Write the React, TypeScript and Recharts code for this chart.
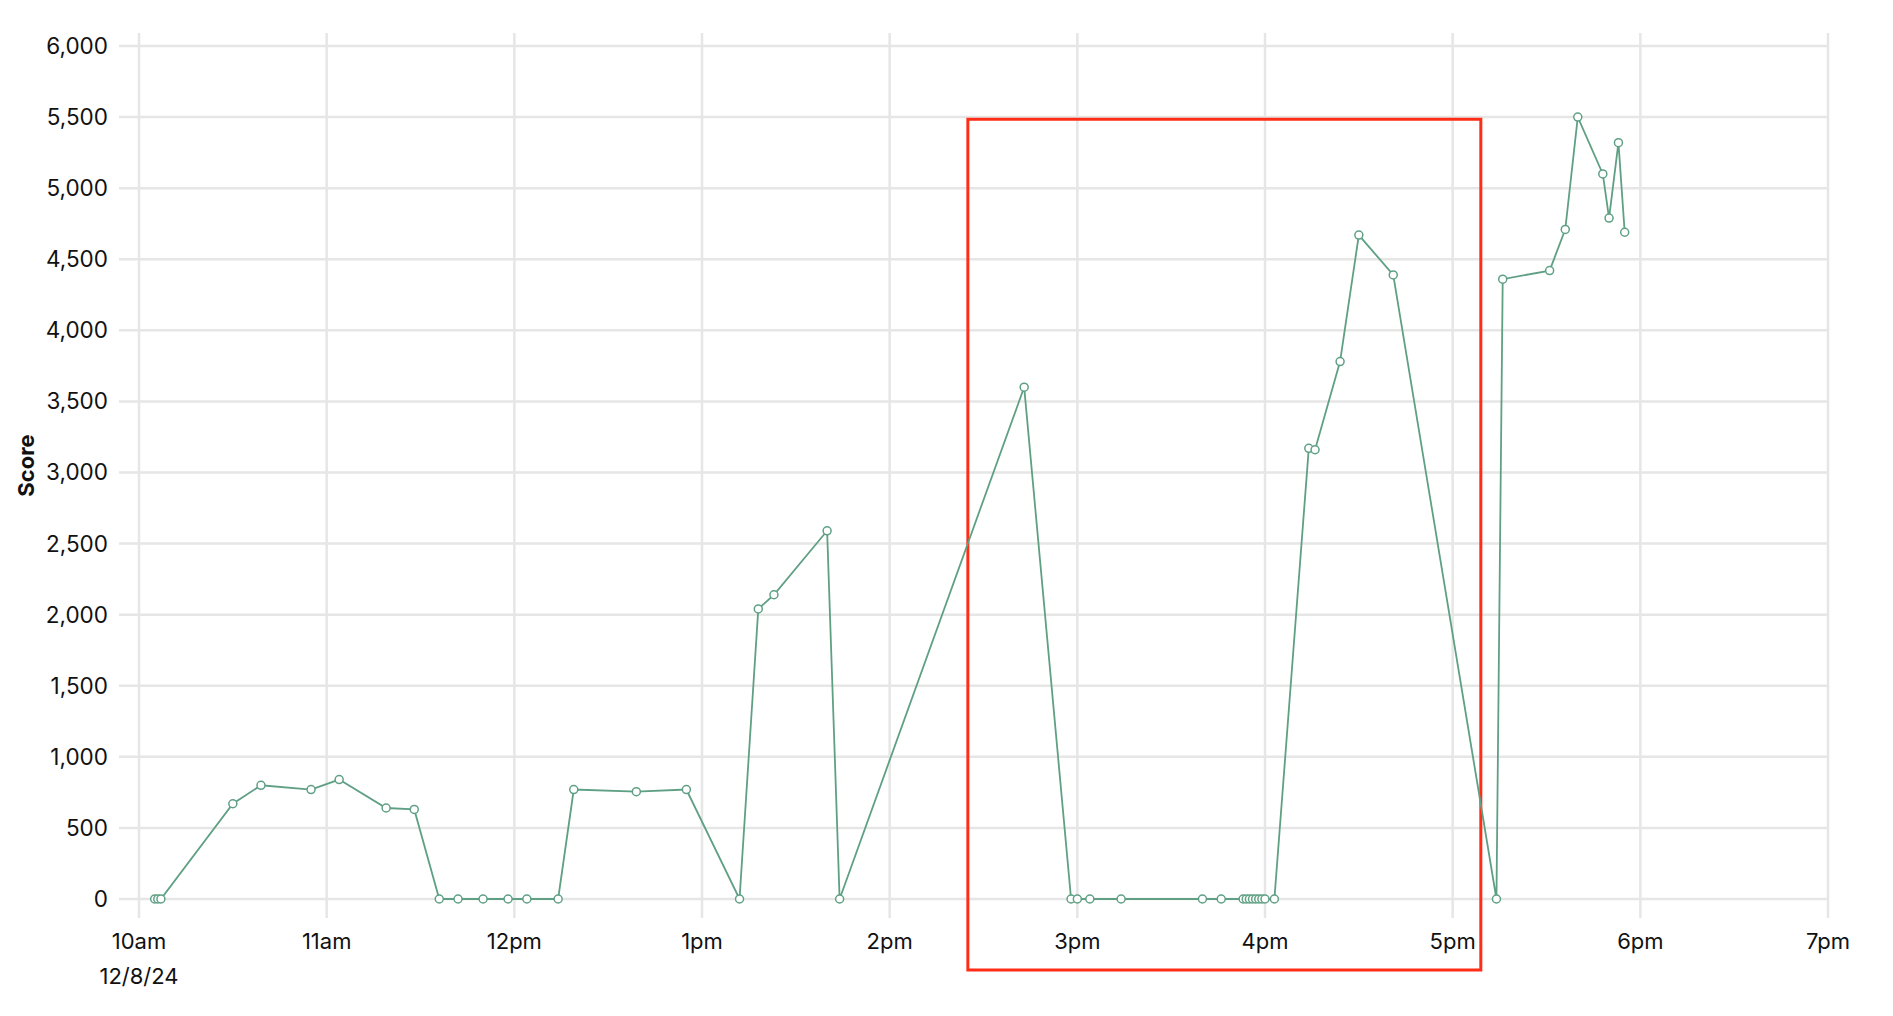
import { LineChart, Line, XAxis, YAxis, CartesianGrid, ReferenceArea, Label } from 'recharts'

// session scores (time of day, score)
const times = [
    '10:05', '10:06', '10:07', '10:30', '10:39', '10:55', '11:04', '11:19', '11:28',
    '11:36', '11:42', '11:50', '11:58', '12:04', '12:14', '12:19', '12:39', '12:55',
    '13:12', '13:18', '13:23', '13:40', '13:44', '14:43', '14:58', '15:00', '15:04',
    '15:14', '15:40', '15:46', '15:53', '15:54', '15:55', '15:56', '15:57', '15:58',
    '15:59', '16:00', '16:03', '16:14', '16:16', '16:24', '16:30', '16:41', '17:14',
    '17:16', '17:31', '17:36', '17:40', '17:48', '17:50', '17:53', '17:55',
]
const scores = [
    0, 0, 0, 670, 800, 770, 840, 640, 630,
    0, 0, 0, 0, 0, 0, 770, 755, 770,
    0, 2040, 2140, 2590, 0, 3600, 0, 0, 0,
    0, 0, 0, 0, 0, 0, 0, 0, 0,
    0, 0, 0, 3170, 3160, 3780, 4670, 4390, 0,
    4360, 4420, 4710, 5500, 5100, 4790, 5320, 4690,
]

const hourTicks = [10, 11, 12, 13, 14, 15, 16, 17, 18, 19]
const scoreTicks = [0, 500, 1000, 1500, 2000, 2500, 3000, 3500, 4000, 4500, 5000, 5500, 6000]
const dateLabel = '12/8/24'

// highlighted window
const boxFrom = '14:25'
const boxTo = '17:09'
const boxScores = [-500, 5485]

const toMin = (s: string) => {
    const [h, m] = s.split(':').map(Number)
    return h * 60 + m
}

const data = times.map((t, i) => ({ t: toMin(t), score: scores[i] }))

const fmtHour = (v: number) => {
    const h = Math.round(v / 60)
    const h12 = h % 12 === 0 ? 12 : h % 12
    return `${h12}${h < 12 ? 'am' : 'pm'}`
}

const GREEN = '#5fa084'

function TimeTick({ x, y, payload, index }: any) {
    return (
        <g>
            <text x={x} y={y + 23} textAnchor="middle" fontSize={22} fill="#111">
                {fmtHour(payload.value)}
            </text>
            {index === 0 && (
                <text x={x} y={y + 58} textAnchor="middle" fontSize={22} fill="#111">
                    {dateLabel}
                </text>
            )}
        </g>
    )
}

function ScoreLabel({ viewBox }: any) {
    const cx = viewBox.x + 26
    const cy = viewBox.y + viewBox.height / 2 - 10
    return (
        <text x={cx} y={cy} transform={`rotate(-90 ${cx} ${cy})`} textAnchor="middle" dominantBaseline="central"
            fontSize={22} fontWeight={700} fill="#111">
            Score
        </text>
    )
}

export default function App() {
    return (
        <div style={{ margin: -8, fontFamily: 'Inter, sans-serif', background: '#fff' }}>
            <LineChart width={1893} height={1016} data={data} margin={{ top: 33, right: 64, bottom: 18, left: 0 }}>
                <CartesianGrid stroke="#e6e6e6" strokeWidth={2.5} syncWithTicks />
                <XAxis
                    dataKey="t"
                    type="number"
                    domain={[hourTicks[0] * 60, hourTicks[hourTicks.length - 1] * 60]}
                    ticks={hourTicks.map(h => h * 60)}
                    padding={{ left: 20, right: 1 }}
                    axisLine={false}
                    tickLine={false}
                    height={80}
                    tick={<TimeTick />}
                    interval={0}
                />
                <YAxis
                    type="number"
                    domain={[0, 6000]}
                    ticks={scoreTicks}
                    padding={{ top: 13, bottom: 19 }}
                    width={119}
                    axisLine={false}
                    tickLine={false}
                    tickSize={6}
                    tickMargin={5}
                    interval={0}
                    tick={{ fontSize: 22.5, fill: '#111' }}
                    tickFormatter={(v: number) => v.toLocaleString('en-US')}
                >
                    <Label content={<ScoreLabel />} />
                </YAxis>
                <Line
                    type="linear"
                    dataKey="score"
                    stroke={GREEN}
                    strokeWidth={1.8}
                    dot={{ r: 4, fill: '#fff', stroke: GREEN, strokeWidth: 1.5 }}
                    activeDot={false}
                    isAnimationActive={false}
                />
                <ReferenceArea
                    x1={toMin(boxFrom)}
                    x2={toMin(boxTo)}
                    y1={boxScores[0]}
                    y2={boxScores[1]}
                    ifOverflow="visible"
                    fill="none"
                    stroke="#ff2d16"
                    strokeWidth={3}
                />
            </LineChart>
        </div>
    )
}
